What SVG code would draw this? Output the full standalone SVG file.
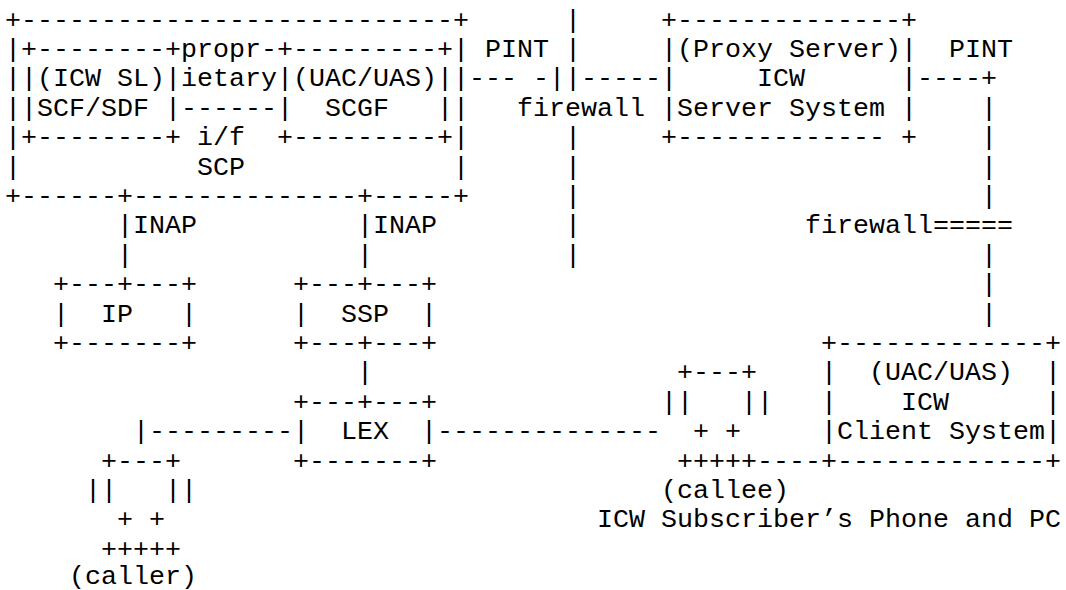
<svg xmlns="http://www.w3.org/2000/svg" width="1066" height="590" viewBox="0 0 1066 590">
<style>
text{font-family:"Liberation Mono","Courier New",monospace;font-size:26.67px;fill:#000;white-space:pre}
</style>
<rect width="1066" height="590" fill="#fff"/>
<g id="connectors">
<text x="565" y="27.5">|</text>
<text x="565" y="56.9">|</text>
<text x="469" y="86.3">--- -||-----</text>
<text x="565" y="145.1">|</text>
<text x="565" y="174.5">|</text>
<text x="565" y="203.9">|</text>
<text x="565" y="233.3">|</text>
<text x="565" y="262.7">|</text>
<text x="917" y="86.3">----+</text>
<text x="981" y="115.7">|</text>
<text x="981" y="145.1">|</text>
<text x="981" y="174.5">|</text>
<text x="981" y="203.9">|</text>
<text x="981" y="262.7">|</text>
<text x="981" y="292.1">|</text>
<text x="981" y="321.5">|</text>
<text x="117" y="233.3">|</text>
<text x="117" y="262.7">|</text>
<text x="357" y="233.3">|</text>
<text x="357" y="262.7">|</text>
<text x="357" y="380.3">|</text>
<text x="133" y="439.1">|---------</text>
<text x="437" y="439.1">--------------</text>
<text x="757" y="468.5">----</text>
</g>
<g id="labels">
<text x="485" y="56.9">PINT</text>
<text x="949" y="56.9">PINT</text>
<text x="517" y="115.7">firewall</text>
<text x="805" y="233.3">firewall=====</text>
<text x="133" y="233.3">INAP</text>
<text x="373" y="233.3">INAP</text>
</g>
<g id="scp">
<text x="5" y="27.5">+---------------------------+</text>
<text x="5" y="56.9">|+--------+propr-+---------+|</text>
<text x="5" y="86.3">||(ICW SL)|ietary|(UAC/UAS)||</text>
<text x="5" y="115.7">||SCF/SDF |------|  SCGF   ||</text>
<text x="5" y="145.1">|+--------+ i/f  +---------+|</text>
<text x="5" y="174.5">|           SCP             |</text>
<text x="5" y="203.9">+------+--------------+-----+</text>
</g>
<g id="server">
<text x="661" y="27.5">+--------------+</text>
<text x="661" y="56.9">|(Proxy Server)|</text>
<text x="661" y="86.3">|     ICW      |</text>
<text x="661" y="115.7">|Server System |</text>
<text x="661" y="145.1">+------------- +</text>
</g>
<g id="ip">
<text x="53" y="292.1">+---+---+</text>
<text x="53" y="321.5">|  IP   |</text>
<text x="53" y="350.9">+-------+</text>
</g>
<g id="ssp">
<text x="293" y="292.1">+---+---+</text>
<text x="293" y="321.5">|  SSP  |</text>
<text x="293" y="350.9">+---+---+</text>
</g>
<g id="lex">
<text x="293" y="409.7">+---+---+</text>
<text x="293" y="439.1">|  LEX  |</text>
<text x="293" y="468.5">+-------+</text>
</g>
<g id="caller">
<text x="101" y="468.5">+---+</text>
<text x="85" y="497.9">||   ||</text>
<text x="117" y="527.3">+ +</text>
<text x="101" y="556.7">+++++</text>
<text x="69" y="584">(caller)</text>
</g>
<g id="callee">
<text x="677" y="380.3">+---+</text>
<text x="661" y="409.7">||   ||</text>
<text x="693" y="439.1">+ +</text>
<text x="677" y="468.5">+++++</text>
<text x="661" y="497.9">(callee)</text>
<text x="597" y="527.3">ICW Subscriber’s Phone and PC</text>
</g>
<g id="client">
<text x="821" y="350.9">+-------------+</text>
<text x="821" y="380.3">|  (UAC/UAS)  |</text>
<text x="821" y="409.7">|    ICW      |</text>
<text x="821" y="439.1">|Client System|</text>
<text x="821" y="468.5">+-------------+</text>
</g>
</svg>
